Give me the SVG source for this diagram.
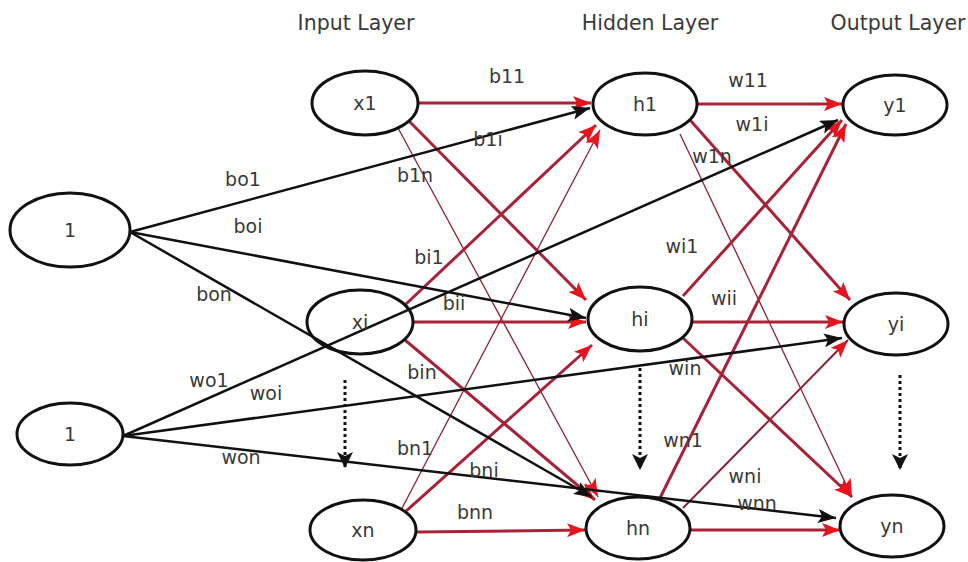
<svg xmlns="http://www.w3.org/2000/svg" width="968" height="562" viewBox="0 0 968 562">
<style>
.node ellipse{fill:#ffffff;stroke:#111;stroke-width:3}
text{font-family:"DejaVu Sans","Liberation Sans",sans-serif;fill:#3a3a3a;font-size:19px;text-anchor:middle}
.hdr{font-size:20.5px}
.blk{stroke:#111;stroke-width:2.5;fill:none;marker-end:url(#ab)}
.rk{stroke:#a82238;stroke-width:3;fill:none;marker-end:url(#ar)}
.rt{stroke:#8c2233;stroke-width:1.3;fill:none;marker-end:url(#ar)}
.dot{stroke:#111;stroke-width:3;stroke-dasharray:3 3;fill:none;marker-end:url(#ad)}
</style>
<defs>
<marker id="ar" markerUnits="userSpaceOnUse" markerWidth="20" markerHeight="16" refX="18" refY="7" orient="auto"><path d="M0,0 L18,7 L0,14 L4,7 z" fill="#e8141c"/></marker>
<marker id="ab" markerUnits="userSpaceOnUse" markerWidth="20" markerHeight="16" refX="18" refY="7" orient="auto"><path d="M0,0 L18,7 L0,14 L4,7 z" fill="#111"/></marker>
<marker id="ad" markerUnits="userSpaceOnUse" markerWidth="20" markerHeight="18" refX="16" refY="8" orient="auto"><path d="M0,0 L16,8 L0,16 L4,8 z" fill="#111"/></marker>
</defs>
<rect width="968" height="562" fill="#ffffff"/>
<g id="headers">
<text class="hdr" x="356" y="30">Input Layer</text>
<text class="hdr" x="650" y="30">Hidden Layer</text>
<text class="hdr" x="898" y="30">Output Layer</text>
</g>
<g id="connectors">
<path class="rk" d="M418,103 L591,103"/>
<path class="rk" d="M408,120 L586,300"/>
<path class="rt" d="M398,128 L598,497"/>
<path class="rk" d="M405,305 L596,125"/>
<path class="rk" d="M413,322 L586,322"/>
<path class="rk" d="M405,340 L595,500"/>
<path class="rt" d="M400,512 L600,130"/>
<path class="rk" d="M405,512 L592,345"/>
<path class="rk" d="M417,532 L585,530"/>
<path class="rk" d="M697,104 L842,104"/>
<path class="rk" d="M690,120 L850,300"/>
<path class="rt" d="M680,134 L852,497"/>
<path class="rk" d="M683,296 L842,120"/>
<path class="rk" d="M692,322 L843,322"/>
<path class="rk" d="M683,338 L852,497"/>
<path class="rk" d="M660,498 L846,124"/>
<path class="rt" d="M683,508 L848,340" style="stroke-width:2"/>
<path class="rk" d="M690,530 L840,530"/>
<path class="blk" d="M130,232 L590,108"/>
<path class="blk" d="M130,232 L586,318"/>
<path class="blk" d="M130,232 L592,497"/>
<path class="blk" d="M123,436 L838,120"/>
<path class="blk" d="M123,436 L842,338"/>
<path class="blk" d="M123,436 L836,518"/>
<path class="dot" d="M345,380 L345,468"/>
<path class="dot" d="M640,368 L640,470"/>
<path class="dot" d="M900,375 L900,470"/>
</g>
<g id="edge-labels">
<text x="507" y="83">b11</text>
<text x="488" y="146">b1i</text>
<text x="415" y="182">b1n</text>
<text x="243" y="186">bo1</text>
<text x="248" y="233">boi</text>
<text x="214" y="301">bon</text>
<text x="209" y="387">wo1</text>
<text x="266" y="400">woi</text>
<text x="241" y="464">won</text>
<text x="429" y="264">bi1</text>
<text x="454" y="310">bii</text>
<text x="422" y="379">bin</text>
<text x="415" y="455">bn1</text>
<text x="484" y="477">bni</text>
<text x="475" y="519">bnn</text>
<text x="748" y="87">w11</text>
<text x="752" y="131">w1i</text>
<text x="712" y="163">w1n</text>
<text x="682" y="253">wi1</text>
<text x="724" y="305">wii</text>
<text x="685" y="375">win</text>
<text x="683" y="447">wn1</text>
<text x="745" y="483">wni</text>
<text x="757" y="510">wnn</text>
</g>
<g id="bias1" class="node"><ellipse cx="70" cy="230" rx="60" ry="37"/><text x="70" y="237">1</text></g>
<g id="bias2" class="node"><ellipse cx="70" cy="434" rx="53" ry="31"/><text x="70" y="441">1</text></g>
<g id="x1" class="node"><ellipse cx="365" cy="103" rx="53" ry="32"/><text x="365" y="110">x1</text></g>
<g id="xi" class="node"><ellipse cx="360" cy="322" rx="53" ry="32" style="fill:none"/><text x="360" y="329">xi</text></g>
<g id="xn" class="node"><ellipse cx="363" cy="530" rx="53" ry="30"/><text x="363" y="537">xn</text></g>
<g id="h1" class="node"><ellipse cx="645" cy="104" rx="52" ry="31"/><text x="645" y="111">h1</text></g>
<g id="hi" class="node"><ellipse cx="640" cy="319" rx="52" ry="32"/><text x="640" y="326">hi</text></g>
<g id="hn" class="node"><ellipse cx="638" cy="528" rx="52" ry="31"/><text x="638" y="535">hn</text></g>
<g id="y1" class="node"><ellipse cx="895" cy="105" rx="52" ry="30"/><text x="895" y="112">y1</text></g>
<g id="yi" class="node"><ellipse cx="896" cy="324" rx="52" ry="31"/><text x="896" y="331">yi</text></g>
<g id="yn" class="node"><ellipse cx="892" cy="526" rx="52" ry="31"/><text x="892" y="533">yn</text></g>
</svg>
